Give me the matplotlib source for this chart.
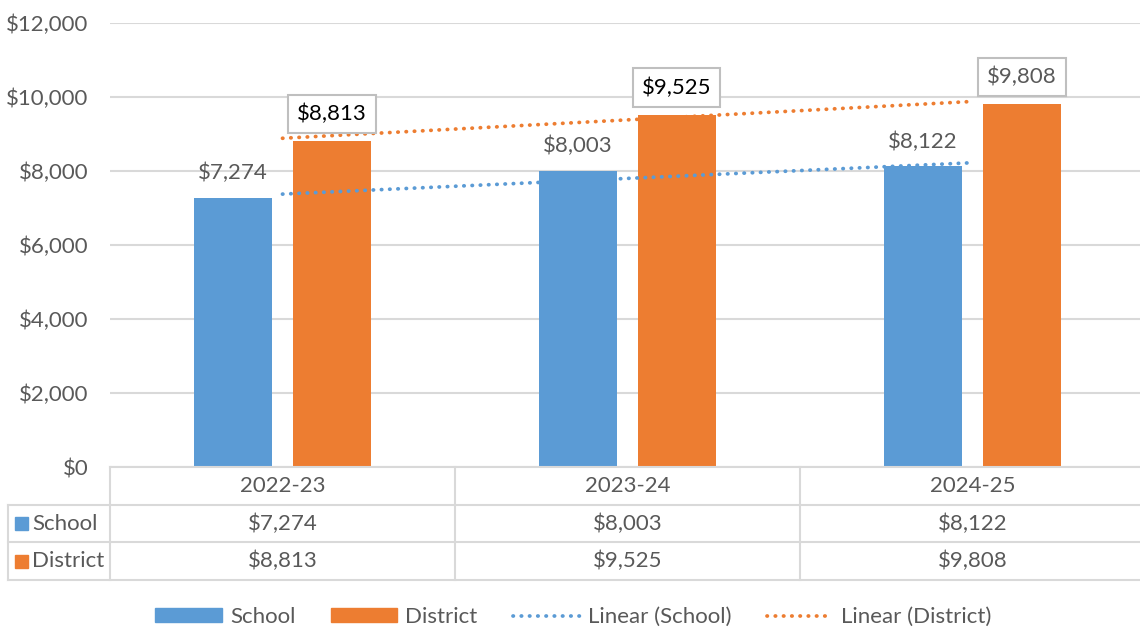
import numpy as np
import matplotlib
matplotlib.use("Agg")
from matplotlib import pyplot as plt
from matplotlib.patches import Patch, Rectangle
from matplotlib.lines import Line2D

years = ["2022-23", "2023-24", "2024-25"]
school = [7274, 8003, 8122]
district = [8813, 9525, 9808]
district_label_colors = ["black", "black", "#595959"]
yticks = [0, 2000, 4000, 6000, 8000, 10000, 12000]

blue = "#5b9bd5"
orange = "#ed7d31"
gray = "#595959"
grid = "#d9d9d9"

plt.rcParams['font.family'] = ['Lato', 'DejaVu Sans']
fs = 16
plt.rcParams['font.size'] = fs

W, H = 1140, 631
fig = plt.figure(figsize=(W / 100, H / 100), dpi=100)

def px_axes(x0, y0, x1, y1):
    # y measured from the top of the image
    return fig.add_axes([x0 / W, (H - y1) / H, (x1 - x0) / W, (y1 - y0) / H])

ax = px_axes(110, 23, 1145, 467)
x = np.arange(len(years))
bw = 0.226
off = 0.143

ax.bar(x - off, school, bw, color=blue, zorder=3)
ax.bar(x + off, district, bw, color=orange, zorder=3)

# linear trendlines
dots = (0, (0.1, 2.1))
tlw = 2.7
for vals, c in [(school, blue), (district, orange)]:
    k, b = np.polyfit(x + 1, vals, 1)
    ax.plot(x, k * (x + 1) + b, color=c, lw=tlw, linestyle=dots,
            dash_capstyle='round', zorder=4)

for i, v in enumerate(school):
    ax.annotate(f"${v:,}", (x[i] - off, v), xytext=(0, 25), textcoords='offset pixels',
                ha='center', va='center', color=gray, fontsize=fs, zorder=5)
for i, v in enumerate(district):
    ax.annotate(f"${v:,}", (x[i] + off, v), xytext=(0, 27), textcoords='offset pixels',
                ha='center', va='center', color=district_label_colors[i], fontsize=fs, zorder=5,
                bbox=dict(boxstyle='square,pad=0.4', fc='white', ec='#bfbfbf', lw=1.5))

ax.set_xlim(-0.5, 2.5)
ax.set_ylim(0, 12000)
ax.set_yticks(yticks)
ax.set_yticklabels([f"${t:,}" for t in yticks])
ax.set_xticks([])
ax.tick_params(axis='y', length=0, pad=15.5, labelcolor=gray, labelsize=fs)
ax.grid(axis='y', color=grid, lw=1.5, zorder=0)
for s in ax.spines.values():
    s.set_visible(False)

# data table under the chart
tab = px_axes(110, 467, 1145, 580)
tab.set_xlim(-0.5, 2.5)
tab.set_ylim(3, 0)
tab.axis('off')
left = -0.5 - 102 / 345
lk = dict(color=grid, lw=1.5, clip_on=False)
tab.plot([-0.5, 2.5], [0, 0], **lk)
for r in (1, 2, 3):
    tab.plot([left, 2.5], [r, r], **lk)
tab.plot([left, left], [1, 3], **lk)
for c in (-0.5, 0.5, 1.5, 2.5):
    tab.plot([c, c], [0, 3], **lk)

for i, yr in enumerate(years):
    tab.text(i, 0.5, yr, ha='center', va='center', color=gray, fontsize=fs)
    tab.text(i, 1.5, f"${school[i]:,}", ha='center', va='center', color=gray, fontsize=fs)
    tab.text(i, 2.5, f"${district[i]:,}", ha='center', va='center', color=gray, fontsize=fs)

sq_w = 13 / 345
for r, (name, c) in enumerate([("School", blue), ("District", orange)]):
    tab.add_patch(Rectangle((left + 7 / 345, r + 1.5 - 0.17), sq_w, 0.34, color=c, clip_on=False))
    tab.text(left + 24 / 345, r + 1.5, name, ha='left', va='center', color=gray, fontsize=fs)

handles = [Patch(color=blue), Patch(color=orange),
           Line2D([], [], color=blue, lw=tlw, linestyle=dots, dash_capstyle='round'),
           Line2D([], [], color=orange, lw=tlw, linestyle=dots, dash_capstyle='round')]
labels = ["School", "District", "Linear (School)", "Linear (District)"]
leg = fig.legend(handles, labels, loc='center', bbox_to_anchor=(0.503, 14 / H), ncol=4,
                 frameon=False, handlelength=3.0, handletextpad=0.35, columnspacing=1.6,
                 handleheight=0.6, fontsize=fs)
for t in leg.get_texts():
    t.set_color(gray)

fig.savefig("out.png", dpi=100)
